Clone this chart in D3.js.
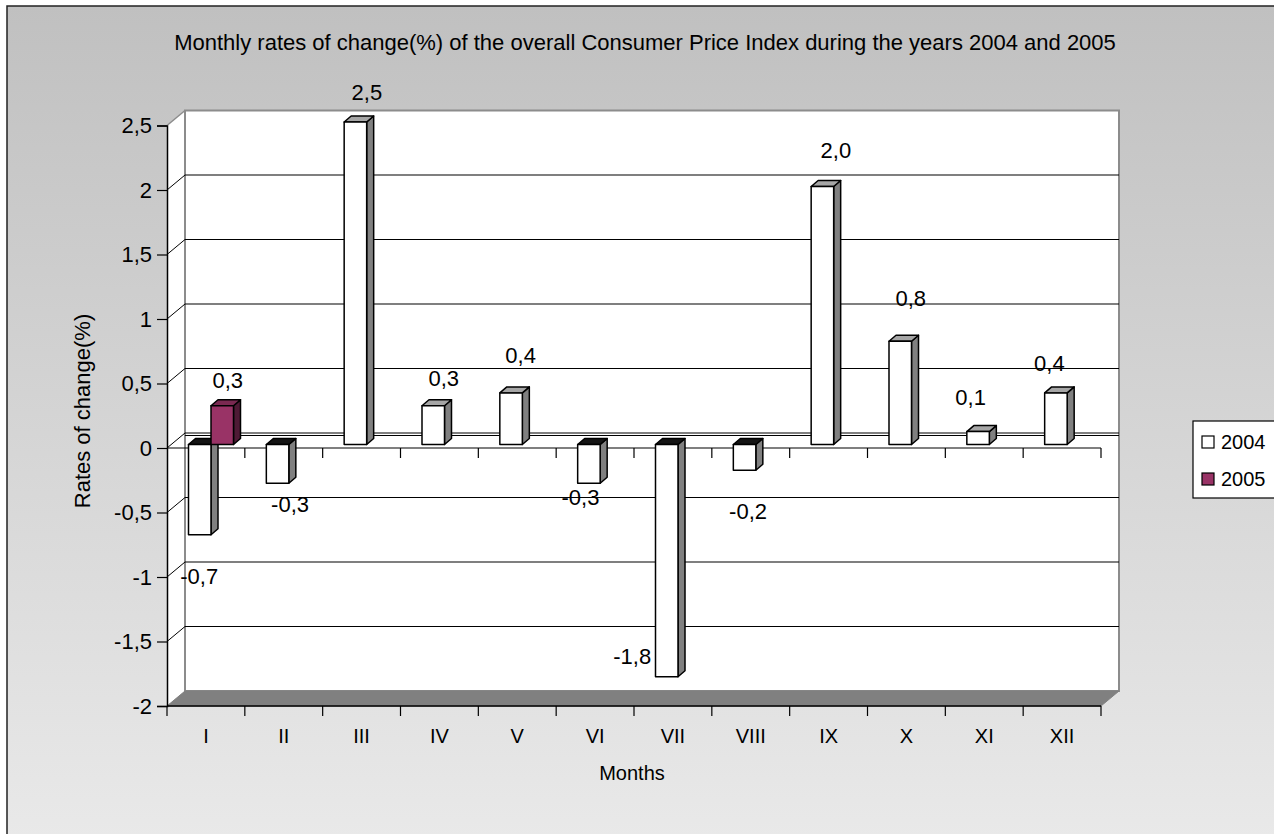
<!DOCTYPE html>
<html>
<head>
<meta charset="utf-8">
<script src="https://cdn.jsdelivr.net/npm/d3@7/dist/d3.min.js"></script>
<style>
  html, body { margin: 0; padding: 0; background: #fff; }
  svg { display: block; font-family: "Liberation Sans", Arial, sans-serif; }
</style>
</head>
<body>
<svg id="chart" width="1274" height="834"></svg>
<script>
// Monthly CPI rates of change (%), 2004 and 2005
const months = ["I", "II", "III", "IV", "V", "VI", "VII", "VIII", "IX", "X", "XI", "XII"];
const seriesNames = ["2004", "2005"];
const values2004 = [-0.7, -0.3, 2.5, 0.3, 0.4, -0.3, -1.8, -0.2, 2.0, 0.8, 0.1, 0.4];
const values2005 = [0.3, null, null, null, null, null, null, null, null, null, null, null];
const yTicks = [-2, -1.5, -1, -0.5, 0, 0.5, 1, 1.5, 2, 2.5];
const titleText = "Monthly rates of change(%) of the overall Consumer Price Index during the years 2004 and 2005";
const yTitle = "Rates of change(%)";
const xTitle = "Months";

// label placement tweaks (dx, dy) for the value labels, per month and series
const labelTweak2004 = [[-4, 13], [9, -7], [8, 2], [7, 4], [6, -6], [-12, -14], [-38, -48], [0, 13], [10, -4], [7, -11], [-11, -2], [-10, 2]];
const labelTweak2005 = [[2, 6]];

const svg = d3.select("#chart");
const W = 1274, H = 834;

// background panel with vertical gradient
const defs = svg.append("defs");
const grad = defs.append("linearGradient").attr("id", "bg").attr("x1", 0).attr("y1", 0).attr("x2", 0).attr("y2", 1);
grad.append("stop").attr("offset", "0%").attr("stop-color", "#c0c0c0");
grad.append("stop").attr("offset", "100%").attr("stop-color", "#e9e9e9");
svg.append("rect").attr("x", 7).attr("y", 6).attr("width", W).attr("height", H)
  .attr("fill", "url(#bg)").attr("stroke", "#222").attr("stroke-width", 1.5);

// scales (front plane)
const x = d3.scaleBand().domain(months).range([167, 1101]).padding(0);
const y = d3.scaleLinear().domain([-2, 2.5]).range([706, 125.5]);
const inner = d3.scaleBand().domain(seriesNames).range([21.5, 66.5]).padding(0);
const DX = 18, DY = -15;          // depth of the plot box
const BDX = 7, BDY = -6;          // depth of each column
const BSHIFT = -3.5;              // columns sit slightly behind the front plane

const xL = 167, xR = 1101;
const yTop = y(2.5), yBot = y(-2);

const hyphen = s => s.replace("\u2212", "-");
const fmt = v => hyphen(d3.format(",")(v).replace(".", ","));
const fmtLabel = v => hyphen(d3.format(".1f")(v).replace(".", ","));

// side wall
svg.append("polygon")
  .attr("points", [[xL, yTop], [xL + DX, yTop + DY], [xL + DX, yBot + DY], [xL, yBot]].join(" "))
  .attr("fill", "#fff").attr("stroke", "none");
// back wall
svg.append("rect").attr("x", xL + DX).attr("y", yTop + DY)
  .attr("width", xR - xL).attr("height", yBot - yTop)
  .attr("fill", "#fff").attr("stroke", "#8c8c8c").attr("stroke-width", 2);
svg.append("line").attr("x1", xL).attr("y1", yTop).attr("x2", xL + DX).attr("y2", yTop + DY)
  .attr("stroke", "#8c8c8c").attr("stroke-width", 1.5);

// gridlines on the back wall and connectors across the side wall
const gridVals = yTicks.filter(t => t > -2 && t < 2.5);
const grid = svg.append("g");
gridVals.forEach(t => {
  grid.append("line").attr("x1", xL + DX).attr("x2", xR + DX)
    .attr("y1", y(t) + DY).attr("y2", y(t) + DY).attr("stroke", "#000").attr("stroke-width", 1.2);
  grid.append("line").attr("x1", xL).attr("x2", xL + DX)
    .attr("y1", y(t)).attr("y2", y(t) + DY).attr("stroke", "#000").attr("stroke-width", 1);
});
grid.append("line").attr("x1", xL + DX).attr("x2", xR + DX)
  .attr("y1", y(0) + DY + 2.5).attr("y2", y(0) + DY + 2.5).attr("stroke", "#000").attr("stroke-width", 1.2);

// floor
svg.append("polygon")
  .attr("points", [[xL, yBot], [xL + DX, yBot + DY], [xR + DX, yBot + DY], [xR, yBot]].join(" "))
  .attr("fill", "#808080").attr("stroke", "#808080").attr("stroke-width", 1);

// y axis
const yAxis = svg.append("g").attr("transform", `translate(${xL},0)`)
  .call(d3.axisLeft(y).tickValues(yTicks).tickSize(10).tickPadding(5).tickFormat(fmt));
yAxis.select(".domain").attr("stroke", "#000").attr("stroke-width", 1.5);
yAxis.selectAll(".tick line").attr("stroke", "#000").attr("stroke-width", 1.2);
yAxis.selectAll(".tick text").attr("font-size", 22).attr("fill", "#000")
  .attr("font-family", "Liberation Sans, Arial, sans-serif");

// category axis along the zero level
const boundaries = months.map(m => x(m)).concat([xR]);
const zeroAxis = svg.append("g");
zeroAxis.append("line").attr("x1", xL).attr("x2", xR).attr("y1", y(0)).attr("y2", y(0))
  .attr("stroke", "#000").attr("stroke-width", 1.2);
zeroAxis.selectAll("line.tk").data(boundaries.slice(1)).join("line").attr("class", "tk")
  .attr("x1", d => d).attr("x2", d => d).attr("y1", y(0)).attr("y2", y(0) + 10)
  .attr("stroke", "#000").attr("stroke-width", 1.2);

// category axis along the floor edge
const xAxis = svg.append("g").attr("transform", `translate(0,${yBot})`);
xAxis.append("line").attr("x1", xL).attr("x2", xR).attr("y1", 0).attr("y2", 0)
  .attr("stroke", "#000").attr("stroke-width", 1.5);
xAxis.selectAll("line.tk").data(boundaries).join("line").attr("class", "tk")
  .attr("x1", d => d).attr("x2", d => d).attr("y1", 0).attr("y2", 10)
  .attr("stroke", "#000").attr("stroke-width", 1.2);
xAxis.selectAll("text").data(months).join("text")
  .attr("x", d => x(d) + x.bandwidth() / 2).attr("y", 37)
  .attr("text-anchor", "middle").attr("font-size", 20).attr("fill", "#000").text(d => d);

// columns
const palette = {
  "2004": { front: "#ffffff", side: "#808080", top: "#a6a6a6", under: "#141414" },
  "2005": { front: "#993366", side: "#4f1a35", top: "#7a2951", under: "#2a0d1c" }
};
const bars = [];
months.forEach((m, i) => {
  [[seriesNames[0], values2004[i]], [seriesNames[1], values2005[i]]].forEach(([s, v]) => {
    if (v === null || v === undefined) return;
    bars.push({ m, i, s, v });
  });
});
const barG = svg.append("g");
bars.forEach(b => {
  const c = palette[b.s];
  const x0 = x(b.m) + inner(b.s), w = inner.bandwidth();
  const t = y(Math.max(b.v, 0)) + BSHIFT, btm = y(Math.min(b.v, 0)) + BSHIFT;
  const g = barG.append("g").attr("stroke", "#000").attr("stroke-width", 1.5).attr("stroke-linejoin", "round");
  g.append("polygon")
    .attr("points", [[x0 + w, t], [x0 + w + BDX, t + BDY], [x0 + w + BDX, btm + BDY], [x0 + w, btm]].join(" "))
    .attr("fill", c.side);
  g.append("polygon")
    .attr("points", [[x0, t], [x0 + BDX, t + BDY], [x0 + w + BDX, t + BDY], [x0 + w, t]].join(" "))
    .attr("fill", b.v >= 0 ? c.top : c.under);
  g.append("rect").attr("x", x0).attr("y", t).attr("width", w).attr("height", btm - t)
    .attr("fill", c.front);
  b.cx = x0 + (w + BDX) / 2;
  b.ly = b.v >= 0 ? t - 32 : btm + 28;
});

// value labels
const tweak = b => (b.s === "2004" ? labelTweak2004[b.i] : labelTweak2005[b.i]) || [0, 0];
svg.append("g").selectAll("text").data(bars).join("text")
  .attr("x", b => b.cx + tweak(b)[0]).attr("y", b => b.ly + tweak(b)[1])
  .attr("dy", "0.35em").attr("text-anchor", "middle").attr("font-size", 22).attr("fill", "#000")
  .text(b => fmtLabel(b.v));

// titles
svg.append("text").attr("x", 645).attr("y", 42).attr("dy", "0.35em").attr("text-anchor", "middle")
  .attr("font-size", 22).attr("fill", "#000").text(titleText);
svg.append("text").attr("transform", "translate(82,411) rotate(-90)").attr("dy", "0.35em")
  .attr("text-anchor", "middle").attr("font-size", 22).attr("fill", "#000").text(yTitle);
svg.append("text").attr("x", 632).attr("y", 773).attr("dy", "0.35em").attr("text-anchor", "middle")
  .attr("font-size", 20).attr("fill", "#000").text(xTitle);

// legend
const lg = svg.append("g");
lg.append("rect").attr("x", 1193).attr("y", 421).attr("width", 90).attr("height", 77)
  .attr("fill", "#fff").attr("stroke", "#000").attr("stroke-width", 1.2);
seriesNames.forEach((s, k) => {
  const yy = 436 + k * 37;
  lg.append("rect").attr("x", 1202).attr("y", yy).attr("width", 12).attr("height", 12)
    .attr("fill", palette[s].front).attr("stroke", "#000").attr("stroke-width", 1.2);
  lg.append("text").attr("x", 1221).attr("y", yy + 6).attr("dy", "0.35em")
    .attr("font-size", 20).attr("fill", "#000").text(s);
});
</script>
</body>
</html>
